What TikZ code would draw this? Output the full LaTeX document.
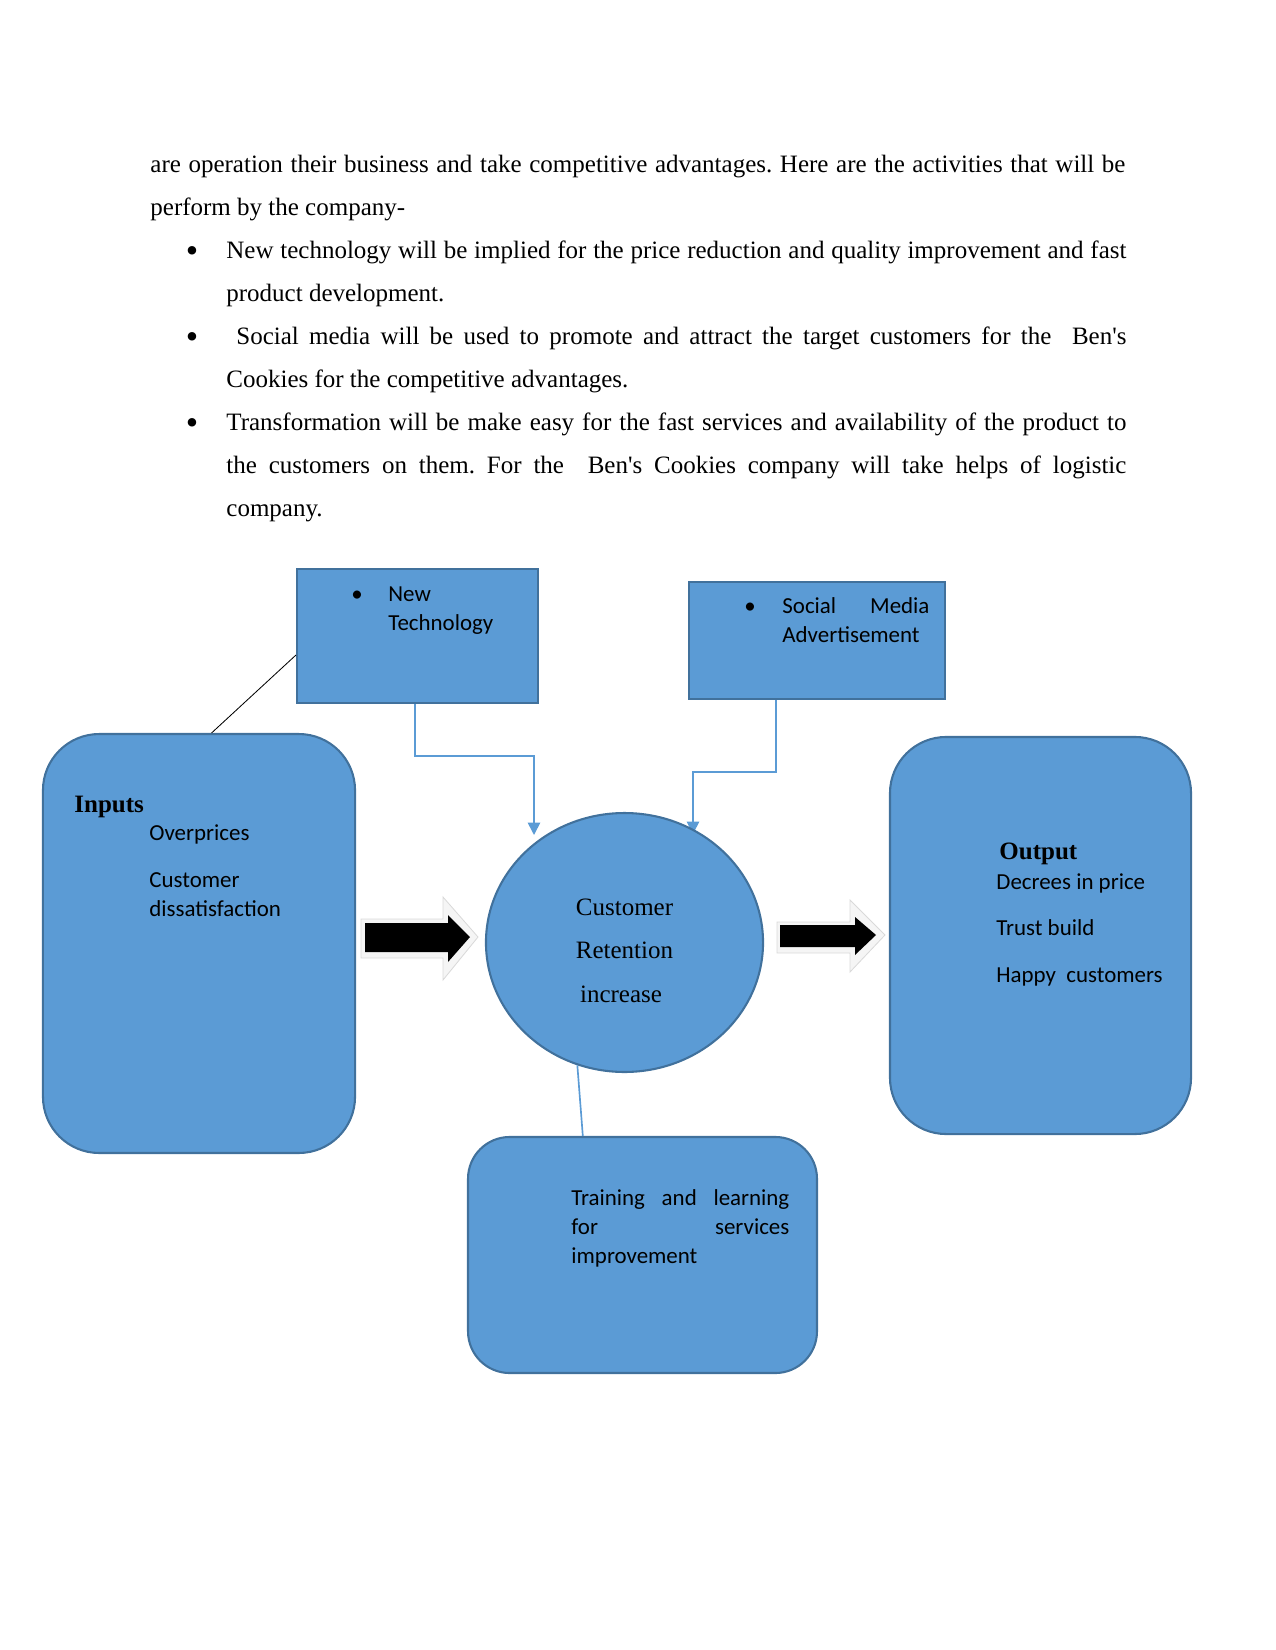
\documentclass[tikz,border=0pt]{standalone}
\usepackage{fontspec}
\setmainfont{Liberation Serif}
\newfontfamily\plainrm{Liberation Serif}
\newfontfamily\calibri{Carlito}
\usetikzlibrary{arrows.meta,calc,shapes.geometric,backgrounds}
\definecolor{boxblue}{HTML}{5B9BD5}
\definecolor{boxedge}{HTML}{41719C}
\newcommand{\bigdot}{\raisebox{-2.1pt}{\fontsize{17pt}{17pt}\selectfont\textbullet}}

\begin{document}
\frenchspacing
\begin{tikzpicture}[x=0.48pt,y=-0.48pt,>=Stealth]
\tikzstyle{body}=[inner sep=0,anchor=base west,font=\plainrm\fontsize{12pt}{20.64pt}\selectfont]
\tikzstyle{blk}=[draw=boxedge,fill=boxblue,line width=1pt]
\tikzstyle{txt}=[inner sep=0,anchor=base west,font=\calibri\fontsize{11pt}{14pt}\selectfont]
\tikzstyle{head}=[inner sep=0,anchor=base west,font=\bfseries\fontsize{12pt}{14pt}\selectfont]
\tikzstyle{mid}=[inner sep=0,anchor=base,font=\fontsize{12pt}{14pt}\selectfont]
\tikzstyle{conn}=[draw=boxblue,line width=0.8pt]
\useasboundingbox (0,0) rectangle (1275,1650);
% text above the diagram
\node[body,text width=468pt,align=justify] (intro) at (150,172.5) {are operation their business and take competitive advantages. Here are the activities that will be\linebreak perform by the company-};
\node[body] (dot1) at (185.5,258.5) {\bigdot};
\node[body,text width=432pt,align=justify] (item1) at (226,258.5) {New technology will be implied for the price reduction and quality improvement and fast\linebreak product development.};
\node[body] (dot2) at (185.5,344.5) {\bigdot};
\node[body,text width=432pt,align=justify] (item2) at (226,344.5) {\hspace*{4.8pt}Social media will be used to promote and attract the target customers for the~ Ben's\linebreak Cookies for the competitive advantages.};
\node[body] (dot3) at (185.5,430.5) {\bigdot};
\node[body,text width=432pt,align=justify] (item3) at (226,430.5) {Transformation will be make easy for the fast services and availability of the product to\linebreak the customers on them. For the~ Ben's Cookies company will take helps of logistic\linebreak company.};
% boxes
\node[blk,minimum width=115.7pt,minimum height=64.3pt] (nt) at (417.5,636) {};
\node[blk,minimum width=122.9pt,minimum height=56.2pt] (sm) at (817,640.5) {};
\node[blk,rounded corners=27pt,minimum width=149.8pt,minimum height=201.1pt] (inp) at (199,943.5) {};
\node[blk,ellipse,minimum width=133pt,minimum height=124.3pt] (ret) at (624.5,942.5) {};
\node[blk,rounded corners=27pt,minimum width=144.5pt,minimum height=190.6pt] (out) at (1040.5,935.5) {};
\node[blk,rounded corners=20pt,minimum width=167.5pt,minimum height=113.3pt] (trn) at (642.5,1255) {};
% box texts
\node[txt] (ntdot) at (351,601) {\textbullet};
\node[txt,text width=80pt] (nttxt) at (388,601) {New\\Technology};
\node[txt] (smdot) at (744,613) {\textbullet};
\node[txt,text width=70.6pt,align=justify] (smtxt) at (782,613) {Social Media\linebreak Advertisement};
\node[head] (inphead) at (74,812) {Inputs};
\node[txt] (inp1) at (149,840) {Overprices};
\node[txt,text width=90pt] (inp2) at (149,887) {Customer\\dissatisfaction};
\node[mid] (ret1) at (624.5,915) {Customer};
\node[mid] (ret2) at (624.5,958) {Retention};
\node[mid] (ret3) at (621,1002) {increase};
\node[head] (outhead) at (999,859) {Output};
\node[txt] (out1) at (996,889) {Decrees in price};
\node[txt] (out2) at (996,935) {Trust build};
\node[txt] (out3) at (996,982) {Happy~ customers};
\node[txt,text width=104.6pt,align=justify] (trntxt) at (571,1205) {Training and learning\linebreak for services\linebreak improvement};
% connectors
\draw ($(nt.north west)!0.64!(nt.south west)$) -- ($(inp.north west)!0.54!(inp.north east)$);
\coordinate (ntend) at (534,835);
\draw[conn,-{Triangle[width=6pt,length=6pt]}] ($(nt.south west)!0.49!(nt.south east)$) -- ++(0,52) -| (ntend);
\coordinate (smend) at (693,834);
\begin{scope}[on background layer]
\draw[conn,-{Triangle[width=6pt,length=6pt]}] ($(sm.south west)!0.34!(sm.south east)$) -- ++(0,72) -| (smend);
\end{scope}
\draw[conn] (ret.249) -- ($(trn.north west)!0.33!(trn.north east)$);
% block arrows
\filldraw[fill=gray!8,draw=gray!30] (361,919) -- (443,919) -- (443,897) -- (478,937) -- (443,980) -- (443,958) -- (361,958) -- cycle;
\fill (365,923) -- (448,923) -- (448,915) -- (470,937) -- (448,962) -- (448,952) -- (365,952) -- cycle;
\filldraw[fill=gray!8,draw=gray!30] (777,922) -- (850,922) -- (850,900) -- (885,935) -- (850,972) -- (850,953) -- (777,953) -- cycle;
\fill (780,925) -- (855,925) -- (855,917) -- (876,935) -- (855,955) -- (855,947) -- (780,947) -- cycle;
\end{tikzpicture}
\end{document}
